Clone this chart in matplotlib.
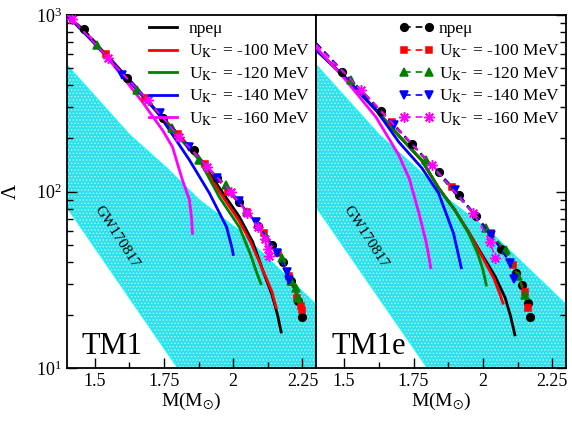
import numpy as np
import matplotlib.pyplot as plt
from matplotlib.ticker import FixedLocator, NullFormatter

plt.rcParams['font.family'] = 'Liberation Serif'
plt.rcParams['mathtext.fontset'] = 'stix'
plt.rcParams['hatch.color'] = 'white'
plt.rcParams['hatch.linewidth'] = 0.6

labels = ['npe\u03bc', r'U$_{\mathrm{K}^{-}}$ = -100 MeV', r'U$_{\mathrm{K}^{-}}$ = -120 MeV',
          r'U$_{\mathrm{K}^{-}}$ = -140 MeV', r'U$_{\mathrm{K}^{-}}$ = -160 MeV']
colors = ['black', 'red', 'green', 'blue', 'magenta']
markers = ['o', 's', '^', 'v', (8, 2, 0)]
msizes = [5.5, 5.0, 5.5, 5.5, 7.5]

# GW170817 band
band_up_m = [1.40, 1.627, 1.76, 1.878, 2.019, 2.30]
band_up_lam = [521, 209, 136, 89.5, 60.5, 22.8]
band_lo_m = [1.40, 1.80]
band_lo_lam = [81.7, 10.0]

# TM1 solid curves
tm1_npe_m = [1.40, 1.55, 1.70, 1.80, 1.878, 1.95, 2.022, 2.07, 2.112, 2.14, 2.16, 2.173]
tm1_npe_lam = [1000, 578, 313, 212, 155, 105, 72, 52, 34, 26, 20, 16]
tm1_100_m = [1.40, 1.55, 1.70, 1.80, 1.878, 1.95, 2.022, 2.065, 2.11, 2.14, 2.155]
tm1_100_lam = [1000, 578, 313, 212, 153, 100, 68, 51, 35, 27, 22]
tm1_120_m = [1.40, 1.55, 1.70, 1.78, 1.878, 1.95, 2.022, 2.06, 2.087, 2.10]
tm1_120_lam = [1000, 578, 313, 223, 151, 93, 63, 45, 34, 30]
tm1_140_m = [1.40, 1.55, 1.65, 1.724, 1.77, 1.842, 1.914, 1.976, 1.997, 2.0]
tm1_140_lam = [1000, 578, 390, 285, 223, 151, 98, 63, 47, 44]
tm1_160_m = [1.40, 1.50, 1.60, 1.673, 1.745, 1.781, 1.817, 1.842, 1.85, 1.853]
tm1_160_lam = [1000, 710, 450, 321, 223, 179, 116, 90, 70, 58]

# TM1 marker series
tm1_np_pm = [1.40, 1.461, 1.616, 1.745, 1.857, 1.943, 2.02, 2.09, 2.14, 2.18, 2.21, 2.235, 2.25]
tm1_np_pl = [1000, 833, 440, 261, 172, 119, 87, 64, 50, 40, 31, 24, 19.4]
tm1_k100_pm = [1.40, 1.54, 1.68, 1.80, 1.90, 1.98, 2.05, 2.11, 2.16, 2.20, 2.23, 2.245, 2.25]
tm1_k100_pl = [1000, 600, 340, 212, 143, 100, 77, 58, 45, 33, 25, 22.5, 21.4]
tm1_k120_pm = [1.40, 1.508, 1.652, 1.781, 1.878, 1.975, 2.05, 2.12, 2.177, 2.21, 2.227, 2.235]
tm1_k120_pl = [1000, 676, 376, 229, 151, 109, 77, 55, 42, 31, 28.4, 25]
tm1_k140_pm = [1.40, 1.41, 1.60, 1.735, 1.84, 1.943, 2.02, 2.083, 2.159, 2.195, 2.20]
tm1_k140_pl = [1000, 980, 457, 279, 180, 120, 88, 67, 45, 35, 31.5]
tm1_k160_pm = [1.40, 1.42, 1.548, 1.691, 1.806, 1.907, 1.993, 2.05, 2.09, 2.115, 2.125, 2.13]
tm1_k160_pl = [1000, 950, 570, 330, 204, 138, 99, 76, 63, 54, 47, 43]

# TM1e solid curves
tm1e_npe_m = [1.40, 1.50, 1.615, 1.70, 1.78, 1.84, 1.90, 1.948, 2.00, 2.044, 2.08, 2.10, 2.115]
tm1e_npe_lam = [634, 450, 290, 205, 150, 105, 78, 59, 43, 33, 25, 19.5, 15.4]
tm1e_100_m = [1.40, 1.50, 1.615, 1.70, 1.78, 1.84, 1.90, 1.948, 2.00, 2.04, 2.06, 2.072]
tm1e_100_lam = [634, 450, 290, 205, 150, 105, 78, 59, 42, 32, 26.5, 23.3]
tm1e_120_m = [1.40, 1.50, 1.615, 1.70, 1.78, 1.84, 1.90, 1.948, 1.98, 2.00, 2.012]
tm1e_120_lam = [634, 450, 290, 205, 150, 105, 78, 58, 45, 36, 29.5]
tm1e_140_m = [1.40, 1.50, 1.615, 1.697, 1.78, 1.84, 1.894, 1.922]
tm1e_140_lam = [634, 450, 290, 191, 136, 98, 58, 37]
tm1e_160_m = [1.40, 1.50, 1.615, 1.697, 1.735, 1.769, 1.795, 1.805, 1.812]
tm1e_160_lam = [655, 440, 264, 161, 118, 76, 52, 43, 37]

# TM1e marker series
tm1e_np_pm = [1.40, 1.494, 1.633, 1.744, 1.840, 1.912, 1.974, 2.064, 2.119, 2.14, 2.162, 2.169]
tm1e_np_pl = [693, 475, 286, 186, 129, 95.5, 72.5, 47.5, 34.5, 29.5, 23.3, 19.5]
tm1e_k100_pm = [1.40, 1.673, 1.887, 2.03, 2.109, 2.151, 2.162]
tm1e_k100_pl = [693, 248, 106, 58, 38.4, 27, 21.9]
tm1e_k120_pm = [1.40, 1.526, 1.794, 2.01, 2.083, 2.126, 2.15]
tm1e_k120_pl = [693, 428, 151, 62, 46.6, 33, 25.9]
tm1e_k140_pm = [1.40, 1.68, 1.901, 2.03, 2.098, 2.112]
tm1e_k140_pl = [693, 238, 102, 56.7, 39.4, 32]
tm1e_k160_pm = [1.40, 1.562, 1.816, 1.965, 2.026, 2.044]
tm1e_k160_pl = [680, 376, 141, 75.5, 51.8, 42]

panels = [
    ('TM1',
     [(tm1_npe_m, tm1_npe_lam), (tm1_100_m, tm1_100_lam), (tm1_120_m, tm1_120_lam),
      (tm1_140_m, tm1_140_lam), (tm1_160_m, tm1_160_lam)],
     [(tm1_np_pm, tm1_np_pl), (tm1_k100_pm, tm1_k100_pl), (tm1_k120_pm, tm1_k120_pl),
      (tm1_k140_pm, tm1_k140_pl), (tm1_k160_pm, tm1_k160_pl)]),
    ('TM1e',
     [(tm1e_npe_m, tm1e_npe_lam), (tm1e_100_m, tm1e_100_lam), (tm1e_120_m, tm1e_120_lam),
      (tm1e_140_m, tm1e_140_lam), (tm1e_160_m, tm1e_160_lam)],
     [(tm1e_np_pm, tm1e_np_pl), (tm1e_k100_pm, tm1e_k100_pl), (tm1e_k120_pm, tm1e_k120_pl),
      (tm1e_k140_pm, tm1e_k140_pl), (tm1e_k160_pm, tm1e_k160_pl)]),
]

fig = plt.figure(figsize=(5.72, 4.21), dpi=100)
ax1 = fig.add_axes([0.117, 0.126, 0.436, 0.838])
ax2 = fig.add_axes([0.553, 0.126, 0.437, 0.838])

band_m = np.linspace(1.4, 2.3, 200)
up = 10 ** np.interp(band_m, band_up_m, np.log10(band_up_lam))
lo = 10 ** np.interp(band_m, band_lo_m, np.log10(band_lo_lam))

for k, (ax, (name, solids, marked)) in enumerate(zip([ax1, ax2], panels)):
    ax.fill_between(band_m, lo, up, facecolor='#2ee0ea', hatch='.....', edgecolor='#b8f6fa',
                    linewidth=0, zorder=1)
    ax.plot(band_up_m, band_up_lam, color='cyan', lw=0.8, zorder=1.5)
    ax.plot(band_lo_m, band_lo_lam, color='cyan', lw=0.8, zorder=1.5)

    line_handles = []
    for (m, lam), c, lab in zip(solids, colors, labels):
        h, = ax.plot(m, lam, color=c, lw=2, label=lab, zorder=3)
        line_handles.append(h)
    mark_handles = []
    for (m, lam), c, mk, ms, lab in zip(marked, colors, markers, msizes, labels):
        h, = ax.plot(m, lam, color=c, lw=1.2, ls=(0, (4, 3)), marker=mk, ms=ms,
                     mec=c, mew=1.1, markevery=slice(1, None), label=lab, zorder=4)
        mark_handles.append(h)

    ax.set_yscale('log')
    ax.set_xlim(1.4, 2.3)
    ax.set_ylim(10, 1000)
    ax.xaxis.set_major_locator(FixedLocator([1.5, 1.75, 2.0, 2.25]))
    ax.xaxis.set_minor_locator(FixedLocator([1.625, 1.875, 2.125]))
    ax.set_xticklabels(['1.5', '1.75', '2', '2.25'])
    ax.tick_params(which='both', direction='in', labelsize=13)
    ax.tick_params(which='major', length=7, width=1)
    ax.tick_params(which='minor', length=4, width=1)
    ax.set_xlabel(r'M(M$_{\odot}$)', fontsize=14, labelpad=1)
    for sp in ax.spines.values():
        sp.set_linewidth(1.3)

    ax.text(0.06, 0.04, name, transform=ax.transAxes, fontsize=22)
    ax.text(1.578, 55, 'GW170817', rotation=-57, fontsize=11, ha='center', va='center', zorder=2)

    if k == 0:
        ax.set_ylabel('\u039b', fontsize=15)
        ax.yaxis.set_label_coords(-0.185, 0.5)
        ax.yaxis.set_ticks_position('left')
        ax.legend(handles=line_handles, loc='upper right', frameon=False, fontsize=12.5,
                  handlelength=1.6, handletextpad=0.7, labelspacing=0.3,
                  borderaxespad=0.15, borderpad=0.2)
    else:
        ax.yaxis.set_ticks_position('right')
        ax.yaxis.set_major_formatter(NullFormatter())
        ax.yaxis.set_minor_formatter(NullFormatter())
        ax.legend(handles=mark_handles, loc='upper right', frameon=False, fontsize=12.5,
                  handlelength=2.0, handletextpad=0.3, labelspacing=0.3, numpoints=2,
                  borderaxespad=0.15, borderpad=0.2)

fig.savefig('out.png', dpi=100)
